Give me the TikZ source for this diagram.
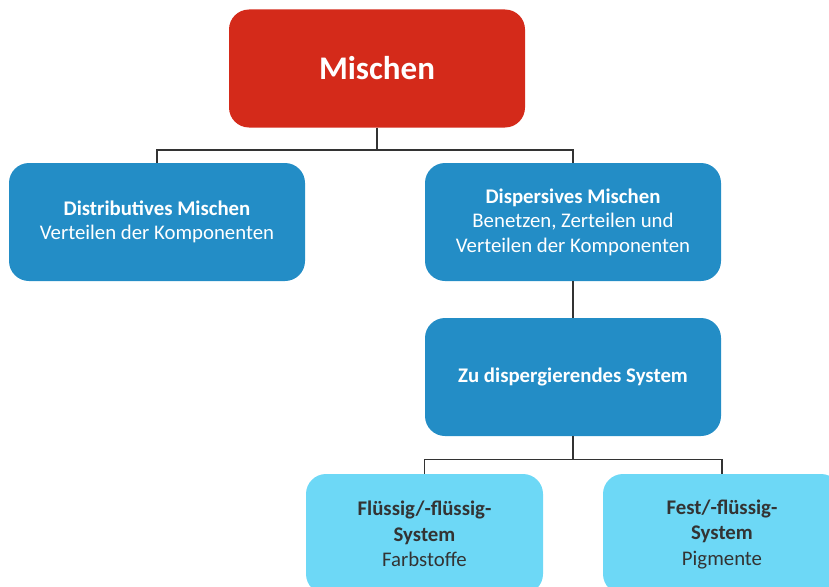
\documentclass[tikz,border=0pt]{standalone}
\usepackage{fontspec}
\setmainfont{Carlito}
\definecolor{redbox}{HTML}{D42A1A}
\definecolor{bluebox}{HTML}{238DC6}
\definecolor{cyanbox}{HTML}{6DD8F6}
\definecolor{linecol}{HTML}{333333}
\definecolor{darktext}{HTML}{333333}
\tikzset{
  box/.style={rectangle, rounded corners=20pt, minimum width=296pt, minimum height=118pt, align=center, inner sep=0pt, font=\fontsize{20.8}{24.5}\selectfont},
  redstyle/.style={box, fill=redbox, text=white, font=\fontsize{33}{40}\selectfont\bfseries},
  bluestyle/.style={box, fill=bluebox, text=white},
  cyanstyle/.style={box, fill=cyanbox, text=darktext, minimum width=238pt, minimum height=120pt, font=\fontsize{20.8}{25.5}\selectfont},
  conn/.style={draw=linecol, line width=1.6pt}
}
\begin{document}
\begin{tikzpicture}[x=1pt,y=-1pt]
\useasboundingbox (0,0) rectangle (829,586);
\clip (0,0) rectangle (829,586);
\node[redstyle] (m) at (377,68.5) {Mischen};
\node[bluestyle] (d) at (157,222) {\textbf{Distributives Mischen}\\Verteilen der Komponenten};
\node[bluestyle] (p) at (573,222) {\textbf{Dispersives Mischen}\\Benetzen, Zerteilen und\\Verteilen der Komponenten};
\node[bluestyle] (z) at (573,377) {\textbf{Zu dispergierendes System}};
\node[cyanstyle, minimum width=237pt] (f) at (424.5,534) {\textbf{Flüssig/-flüssig-}\\\textbf{System}\\Farbstoffe};
\node[cyanstyle] (s) at (722,534) {\textbf{Fest/-flüssig-}\\\textbf{System}\\Pigmente};
\coordinate (j1) at (377,150);
\coordinate (j2) at (573,459.5);
\draw[conn] (m.south) -- (j1);
\draw[conn] (j1) -| (d.north);
\draw[conn] (j1) -| (p.north);
\draw[conn] (p.south) -- (z.north);
\draw[conn] (z.south) -- (j2);
\draw[conn] (j2) -| (f.north);
\draw[conn] (j2) -| (s.north);
\end{tikzpicture}
\end{document}
